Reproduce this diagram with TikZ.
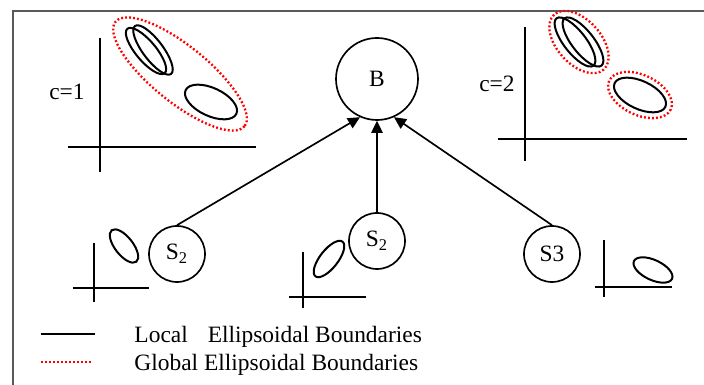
\documentclass[tikz,border=0pt]{standalone}
\usepackage{fontspec}
\setmainfont{Liberation Serif}
\usetikzlibrary{arrows.meta}
\begin{document}
\begin{tikzpicture}[x=0.15mm, y=-0.15mm,
    axis/.style={line width=0.3mm},
    localb/.style={line width=0.3mm},
    globalb/.style={red, line width=0.35mm, dash pattern=on 0.28mm off 0.32mm},
    site/.style={draw, circle, line width=0.25mm, inner sep=0pt, minimum size=8.4mm},
    link/.style={line width=0.25mm, -{Triangle[length=1.8mm,width=1.7mm]}}]
    \useasboundingbox (0,0) rectangle (704,385);
    \draw[black!65, line width=0.3mm] (704,11) -- (13,11) -- (13,385);
    % cluster c=1
    \draw[axis] (100,38) -- (100,172);
    \draw[axis] (68,147) -- (256,147);
    \node (c1) at (67,92) {c=1};
    \draw[localb, shift={(146,51)}, rotate=-50] (0,0) ellipse [x radius=29, y radius=10];
    \draw[localb, shift={(153,50)}, rotate=-53] (0,0) ellipse [x radius=30, y radius=10];
    \draw[localb, shift={(211,102)}, rotate=-25] (0,0) ellipse [x radius=28, y radius=14];
    \draw[globalb, shift={(180,74)}, rotate=-39] (0,0) ellipse [x radius=83, y radius=28];
    % cluster c=2
    \draw[axis] (525,27) -- (525,161);
    \draw[axis] (498,139) -- (687,139);
    \node (c2) at (497,84) {c=2};
    \draw[localb, shift={(575,42)}, rotate=-52] (0,0) ellipse [x radius=30, y radius=11];
    \draw[localb, shift={(583,42)}, rotate=-52] (0,0) ellipse [x radius=30, y radius=11];
    \draw[globalb, shift={(579,42)}, rotate=-48] (0,0) ellipse [x radius=37, y radius=22];
    \draw[localb, shift={(640,95)}, rotate=-25] (0,0) ellipse [x radius=28, y radius=14];
    \draw[globalb, shift={(640,95)}, rotate=-25] (0,0) ellipse [x radius=34, y radius=20];
    % sites
    \node[site, minimum size=12.3mm] (b) at (377,79) {B};
    \node[site] (s1) at (177,254) {S\textsubscript{2}};
    \node[site] (s2) at (377,241) {S\textsubscript{2}};
    \node[site] (s3) at (552,254) {S3};
    \draw[link] (s1.north) -- (b.-114);
    \draw[link] (s2.north) -- (b.south);
    \draw[link] (s3.north) -- (b.-66);
    % local data
    \draw[axis] (94,243) -- (94,302);
    \draw[axis] (73,288) -- (149,288);
    \draw[localb, shift={(124,246)}, rotate=-52] (0,0) ellipse [x radius=20, y radius=9];
    \draw[axis] (303,252) -- (303,308);
    \draw[axis] (289,297) -- (366,297);
    \draw[localb, shift={(329,259)}, rotate=52] (0,0) ellipse [x radius=22, y radius=9];
    \draw[axis] (604,240) -- (604,297);
    \draw[axis] (595,287) -- (672,287);
    \draw[localb, shift={(653,270)}, rotate=-25] (0,0) ellipse [x radius=21, y radius=10];
    % legend
    \draw[localb] (41,334) -- (95,334);
    \draw[globalb] (41,362) -- (93,362);
    \node[anchor=base west, inner sep=0pt] (loc) at (134,343) {Local\hspace{3mm}Ellipsoidal Boundaries};
    \node[anchor=base west, inner sep=0pt] (glo) at (134,371) {Global Ellipsoidal Boundaries};
\end{tikzpicture}
\end{document}
